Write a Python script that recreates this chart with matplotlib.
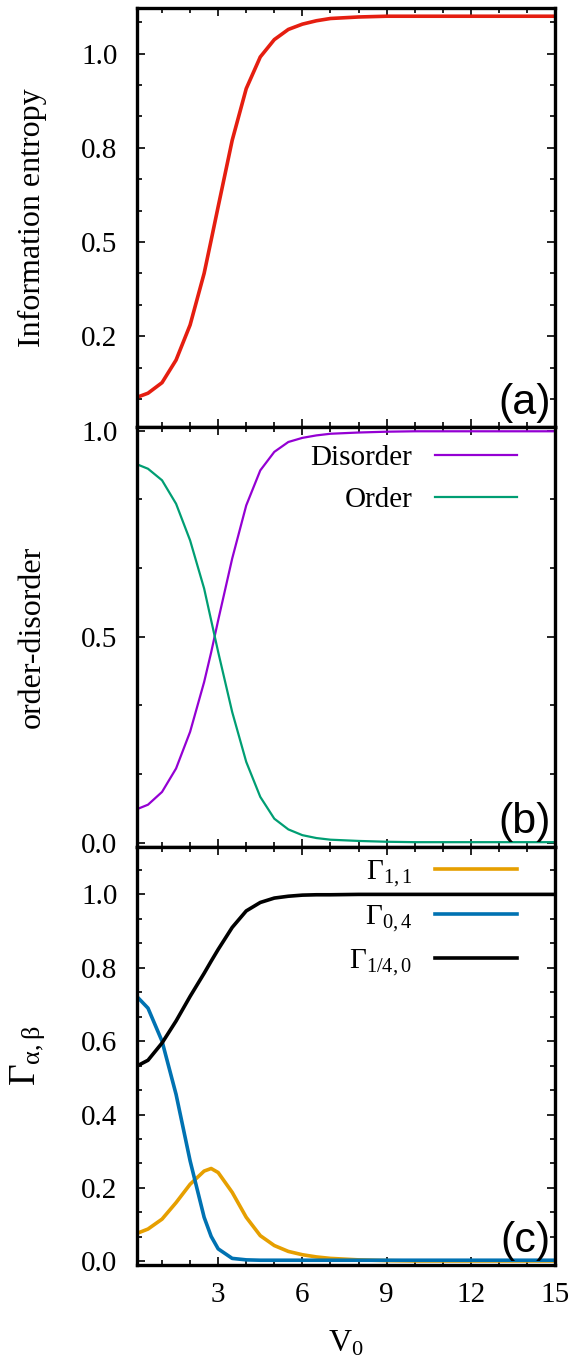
import numpy as np
import matplotlib
matplotlib.use("Agg")
import matplotlib.pyplot as plt
from matplotlib.ticker import MultipleLocator, FuncFormatter

plt.rcParams['font.family'] = 'Liberation Serif'
plt.rcParams['mathtext.fontset'] = 'custom'
plt.rcParams['mathtext.rm'] = 'Liberation Serif'
plt.rcParams['mathtext.it'] = 'Liberation Serif'
plt.rcParams['mathtext.bf'] = 'Liberation Serif'

# values
v0 = [0.1, 0.5, 1.0, 1.5, 2.0, 2.5, 2.75, 3.0, 3.5, 4.0, 4.5, 5.0, 5.5, 6.0,
      6.5, 7.0, 8.0, 9.0, 10.0, 12.0, 15.0]

entropy = [0.088, 0.099, 0.127, 0.187, 0.280, 0.417, 0.505, 0.594, 0.770, 0.907, 0.991, 1.037, 1.064, 1.078,
           1.087, 1.093, 1.097, 1.099, 1.099, 1.099, 1.099]

disorder = [0.081, 0.092, 0.123, 0.180, 0.269, 0.390, 0.462, 0.540, 0.690, 0.819, 0.904, 0.949, 0.973, 0.983,
            0.989, 0.993, 0.996, 0.998, 0.999, 0.999, 0.999]
order = [0.919, 0.908, 0.880, 0.823, 0.734, 0.617, 0.540, 0.463, 0.317, 0.196, 0.111, 0.058, 0.032, 0.018,
         0.011, 0.007, 0.004, 0.002, 0.001, 0.001, 0.001]

gamma_11 = [0.076, 0.088, 0.115, 0.160, 0.210, 0.246, 0.253, 0.242, 0.188, 0.120, 0.070, 0.043, 0.027, 0.018,
            0.012, 0.008, 0.004, 0.002, 0.001, 0.001, 0.001]
gamma_04 = [0.722, 0.690, 0.600, 0.455, 0.274, 0.120, 0.068, 0.034, 0.008, 0.004, 0.003, 0.003, 0.003, 0.003,
            0.003, 0.003, 0.003, 0.003, 0.003, 0.003, 0.003]
gamma_140 = [0.532, 0.548, 0.595, 0.655, 0.722, 0.785, 0.818, 0.850, 0.910, 0.955, 0.978, 0.990, 0.995, 0.998,
             0.999, 0.999, 1.0, 1.0, 1.0, 1.0, 1.0]

fig = plt.figure(figsize=(5.82, 13.63), dpi=100)
L, R = 0.235, 0.9536
ax_a = fig.add_axes([L, 0.6869, R - L, 0.9939 - 0.6869])
ax_b = fig.add_axes([L, 0.3788, R - L, 0.6869 - 0.3788])
ax_c = fig.add_axes([L, 0.0719, R - L, 0.3788 - 0.0719])

fs = 21
lab_fs = 23
for ax in (ax_a, ax_b, ax_c):
    ax.set_xlim(0.1, 15)
    ax.xaxis.set_major_locator(MultipleLocator(3))
    ax.xaxis.set_minor_locator(MultipleLocator(1))
    ax.tick_params(which='both', direction='in', top=True, right=True, width=1.2)
    ax.tick_params(which='major', length=6)
    ax.tick_params(which='minor', length=3.5)
    ax.tick_params(axis='y', labelsize=fs, pad=14)
    ax.tick_params(axis='x', labelsize=fs, pad=12)
    for s in ax.spines.values():
        s.set_linewidth(2.4)

# (a)
ax_a.plot(v0, entropy, color='#e51e10', lw=2.6)
ax_a.set_ylim(0.01, 1.12)
ax_a.yaxis.set_major_locator(MultipleLocator(0.25))
ax_a.yaxis.set_minor_locator(MultipleLocator(0.25 / 3))
ax_a.yaxis.set_major_formatter(FuncFormatter(lambda v, p: '%.1f' % v))
ax_a.set_ylabel('Information entropy', fontsize=lab_fs)
ax_a.tick_params(axis='x', labelbottom=False)
ax_a.text(0.99, 0.01, '(a)', transform=ax_a.transAxes, ha='right', va='bottom',
          fontsize=31, family='Liberation Sans')

# (b)
ax_b.plot(v0, disorder, color='#9400d3', lw=1.6, label='Disorder')
ax_b.plot(v0, order, color='#009e73', lw=1.6, label='Order')
ax_b.set_ylim(-0.01, 1.01)
ax_b.yaxis.set_major_locator(MultipleLocator(0.5))
ax_b.yaxis.set_minor_locator(MultipleLocator(0.5 / 3))
ax_b.yaxis.set_major_formatter(FuncFormatter(lambda v, p: '%.1f' % v))
ax_b.set_ylabel('order-disorder', fontsize=lab_fs)
ax_b.tick_params(axis='x', labelbottom=False)
ax_b.legend(loc='upper right', bbox_to_anchor=(0.972, 1.02), frameon=False, markerfirst=False,
            fontsize=fs, handlelength=2.8, handletextpad=0.8, labelspacing=0.55)
ax_b.text(0.99, 0.01, '(b)', transform=ax_b.transAxes, ha='right', va='bottom',
          fontsize=31, family='Liberation Sans')

# (c)
ax_c.plot(v0, gamma_11, color='#e69f00', lw=2.6, label=r'$\Gamma_{1,1}$')
ax_c.plot(v0, gamma_04, color='#0072b2', lw=2.6, label=r'$\Gamma_{0,4}$')
ax_c.plot(v0, gamma_140, color='black', lw=2.6, label=r'$\Gamma_{1/4,0}$')
ax_c.set_ylim(-0.01, 1.13)
ax_c.yaxis.set_major_locator(MultipleLocator(0.2))
ax_c.yaxis.set_minor_locator(MultipleLocator(0.2 / 3))
ax_c.yaxis.set_major_formatter(FuncFormatter(lambda v, p: '%.1f' % v))
ax_c.set_ylabel(r'$\Gamma_{\alpha,\beta}$', fontsize=27)
ax_c.set_xlabel(r'V$_0$', fontsize=fs + 2, labelpad=15)
ax_c.legend(loc='upper right', bbox_to_anchor=(0.972, 1.035), frameon=False, markerfirst=False,
            fontsize=fs, handlelength=2.8, handletextpad=0.8, labelspacing=0.48)
ax_c.text(0.99, 0.01, '(c)', transform=ax_c.transAxes, ha='right', va='bottom',
          fontsize=31, family='Liberation Sans')

for ax in (ax_a, ax_b, ax_c):
    ax.yaxis.set_label_coords(-0.215, 0.5)

fig.savefig('out.png', dpi=100)
